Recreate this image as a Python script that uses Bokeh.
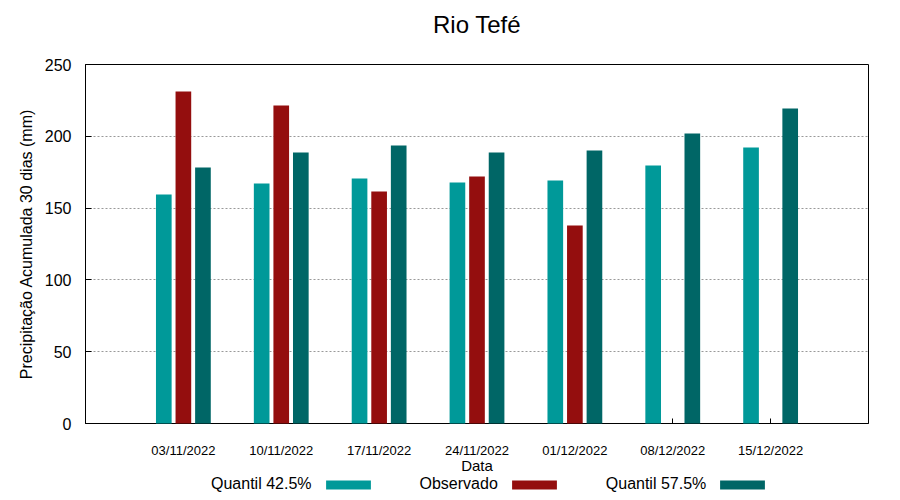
from bokeh.plotting import figure
from bokeh.layouts import column
from bokeh.models import (FactorRange, Range1d, FixedTicker, Legend, LegendItem,
                          ColumnDataSource, Label)
from bokeh.transform import dodge
from bokeh.embed import file_html
from bokeh.resources import INLINE

# ---- data ----
title_text = "Rio Tefé"
dates = ["03/11/2022", "10/11/2022", "17/11/2022", "24/11/2022",
         "01/12/2022", "08/12/2022", "15/12/2022"]
quantil_425 = [159.5, 167.1, 170.6, 167.8, 169.2, 179.7, 192.2]
observado = [231.2, 221.4, 161.6, 172.0, 137.9, float("nan"), float("nan")]
quantil_575 = [178.3, 188.7, 193.6, 188.7, 190.1, 201.9, 219.4]
y_ticks = [0, 50, 100, 150, 200, 250]

series_names = ["Quantil 42.5%", "Observado", "Quantil 57.5%"]
series_cols = ["q425", "obs", "q575"]
series_colors = ["#009999", "#940E0E", "#006666"]
series_offsets = [-0.2, 0.0, 0.2]

FONT = "Liberation Sans"

source = ColumnDataSource(dict(date=dates, q425=quantil_425, obs=observado, q575=quantil_575))


def strip(height):
    f = figure(width=896, height=height, x_range=Range1d(0, 1), y_range=Range1d(0, 1),
               output_backend="svg", toolbar_location=None, title_location=None,
               x_axis_location=None, y_axis_location=None,
               min_border=0, min_border_left=0, min_border_right=0,
               min_border_top=0, min_border_bottom=0)
    f.outline_line_color = None
    f.grid.visible = False
    return f


# ---- title strip ----
hd = strip(54)
hd.add_layout(Label(x=0.5, y=0.559, text=title_text, text_align="center",
                    text_baseline="middle", text_font=FONT, text_font_size="24px",
                    text_color="black"))

# ---- main chart ----
p = figure(width=896, height=422, title_location=None,
           x_range=FactorRange(*dates, range_padding=0.5, range_padding_units="absolute"),
           y_range=Range1d(0, 250),
           output_backend="svg", toolbar_location=None,
           min_border_left=85, min_border_right=28, min_border_top=10, min_border_bottom=53)

p.outline_line_color = "black"
p.outline_line_width = 1
p.outline_line_alpha = 1

for col, color, off in zip(series_cols, series_colors, series_offsets):
    r = p.vbar(x=dodge("date", off, range=p.x_range), top=col, width=0.16, bottom=0,
               source=source, fill_color=color, line_color=None)
    r.level = "overlay"

p.xaxis.axis_label = "Data"
p.xaxis.axis_label_text_font = FONT
p.xaxis.axis_label_text_font_size = "15px"
p.xaxis.axis_label_text_font_style = "normal"
p.xaxis.axis_label_text_color = "black"
p.xaxis.axis_label_standoff = -4
p.xaxis.major_label_text_font = FONT
p.xaxis.major_label_text_font_size = "13px"
p.xaxis.major_label_standoff = 19
p.xaxis.major_label_text_color = "black"
p.xaxis.major_tick_in = 5
p.xaxis.major_tick_out = 0
p.xaxis.minor_tick_line_color = None
p.xaxis.axis_line_color = "black"

p.yaxis.axis_label = "Precipitação Acumulada 30 dias (mm)"
p.yaxis.axis_label_text_font = FONT
p.yaxis.axis_label_text_font_size = "16px"
p.yaxis.axis_label_text_font_style = "normal"
p.yaxis.axis_label_text_color = "black"
p.yaxis.axis_label_standoff = 7
p.yaxis.ticker = FixedTicker(ticks=y_ticks)
p.yaxis.major_label_text_font = FONT
p.yaxis.major_label_text_font_size = "16px"
p.yaxis.major_label_text_color = "black"
p.yaxis.major_label_standoff = 14
p.yaxis.major_tick_in = 6
p.yaxis.major_tick_out = 0
p.yaxis.minor_tick_line_color = None
p.yaxis.axis_line_color = "black"

p.xgrid.grid_line_color = None
p.ygrid.ticker = FixedTicker(ticks=y_ticks[1:-1])
p.ygrid.grid_line_color = "#999999"
p.ygrid.grid_line_dash = "2 2"
p.ygrid.grid_line_width = 1

# ---- legend strip below the chart (gnuplot style: text, then swatch) ----
lg = strip(22)

# legend-only glyphs: zero-height bars outside the strip's range
blank = lg.vbar(x="q425", top=0, bottom=0, width=0.1, source=source,
                fill_alpha=0, line_alpha=0)
swatches = [lg.vbar(x=col, top=0, bottom=0, width=0.1, source=source,
                    fill_color=c, line_color=None)
            for col, c in zip(["q425", "q425", "q575"], series_colors)]

items = [
    LegendItem(label=series_names[0], renderers=[blank]),
    LegendItem(label=series_names[1], renderers=[swatches[0]]),
    LegendItem(label=series_names[2], renderers=[swatches[1]]),
    LegendItem(label="", renderers=[swatches[2]]),
]
legend = Legend(items=items, orientation="horizontal", location=(26, 5),
                glyph_width=56, glyph_height=11, label_standoff=44, label_width=0,
                label_height=18, spacing=8, padding=0, margin=0,
                border_line_alpha=0, background_fill_alpha=0,
                label_text_font=FONT, label_text_font_size="16px", label_text_color="black")
lg.add_layout(legend, "center")

layout = column(hd, p, lg, spacing=0)
open("out.html", "w").write(file_html(layout, INLINE))
